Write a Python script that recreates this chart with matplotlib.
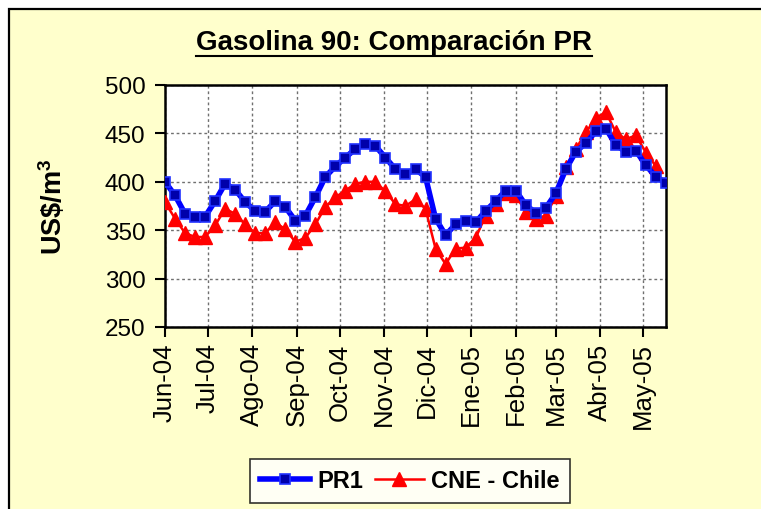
import datetime as dt
import matplotlib
matplotlib.use('Agg')
import matplotlib.pyplot as plt
from matplotlib.patches import Rectangle
from matplotlib.lines import Line2D

plt.rcParams['font.family'] = ['Liberation Sans', 'DejaVu Sans']
plt.rcParams['mathtext.fontset'] = 'custom'
plt.rcParams['mathtext.rm'] = 'Liberation Sans'
plt.rcParams['mathtext.bf'] = 'Liberation Sans:bold'

# weekly dates, first at 1 Jun 2004
start = dt.date(2004, 6, 1)
dates_pr1 = [start + dt.timedelta(days=7 * i) for i in range(51)]
dates_cne = dates_pr1[:50]

pr1 = [400, 386, 367, 364, 364, 380, 398, 392, 379, 370,
       369, 380, 374, 360, 365, 384, 405, 416, 425, 434,
       439, 437, 425, 413, 408, 413, 405, 362, 345, 356,
       359, 358, 370, 380, 391, 391, 376, 368, 373, 388,
       413, 431, 440, 452, 455, 438, 431, 432, 417, 405,
       399]
cne = [379, 362, 347, 343, 343, 355, 372, 367, 356, 347,
       347, 358, 351, 338, 342, 356, 374, 384, 391, 398,
       400, 400, 390, 377, 375, 382, 372, 331, 315, 331,
       332, 342, 365, 377, 388, 386, 369, 362, 365, 385,
       415, 434, 451, 466, 472, 451, 444, 448, 430, 416]

month_ticks = [dt.date(2004, m, 1) for m in range(6, 13)] + [dt.date(2005, m, 1) for m in range(1, 6)]
month_labels = ['Jun-04', 'Jul-04', 'Ago-04', 'Sep-04', 'Oct-04', 'Nov-04',
                'Dic-04', 'Ene-05', 'Feb-05', 'Mar-05', 'Abr-05', 'May-05']
y_ticks = [250, 300, 350, 400, 450, 500]

fig = plt.figure(figsize=(7.61, 5.10), dpi=100)
fig.patch.set_facecolor('white')

# chart area frame (yellow, black border on top/left)
frame = Rectangle((9 / 761, -0.05), 1.1, 1 - 10 / 510 + 0.05, transform=fig.transFigure,
                  facecolor='#FFFFCC', edgecolor='black', linewidth=1.6, zorder=-10)
fig.add_artist(frame)

ax = fig.add_axes([165 / 761, 1 - 328 / 510, (666 - 165) / 761, (328 - 86) / 510])
ax.set_facecolor('white')

ax.plot(dates_cne, cne, color='#FF0000', linewidth=1.8, marker='^', markersize=9.5,
        markerfacecolor='#FF0000', markeredgecolor='#FF0000', label='CNE - Chile', zorder=3)
ax.plot(dates_pr1, pr1, color='#0000FF', linewidth=4, marker='s', markersize=7.5,
        markerfacecolor='#0000AA', markeredgecolor='#2233FF', markeredgewidth=1.2,
        label='PR1', zorder=4)

ax.set_xlim(dates_pr1[0], dates_pr1[-1])
ax.set_ylim(250, 500)
ax.set_yticks(y_ticks)
ax.set_xticks(month_ticks)
ax.set_xticklabels(month_labels, rotation=90, fontsize=18.5)
ax.tick_params(axis='y', labelsize=17.5, direction='out', length=7, width=1.5, pad=7)
ax.tick_params(axis='x', direction='out', length=7, width=1.5, pad=4)
ax.grid(True, color='#707070', linestyle=(0, (2, 2)), linewidth=1.0)
ax.set_axisbelow(True)
for sp in ax.spines.values():
    sp.set_color('black')
    sp.set_linewidth(1.8)

ax.set_ylabel('US\\$/m$^{\\mathbf{3}}$', fontsize=19.5, fontweight='bold')
ax.yaxis.set_label_coords(-0.1936, 0.5)

title = fig.text(394 / 761, 1 - 43 / 510, 'Gasolina 90: Comparación PR', ha='center', va='center',
                 fontsize=20, fontweight='bold')

handles, labels = ax.get_legend_handles_labels()
leg = fig.legend(handles[::-1], labels[::-1], loc='center', bbox_to_anchor=(410 / 761, 1 - 482 / 510),
                 ncol=2, frameon=True, fancybox=False, edgecolor='black',
                 prop={'weight': 'bold', 'size': 17}, handlelength=2.1, columnspacing=0.5,
                 handletextpad=0.3, borderpad=0.45)
leg.get_frame().set_linewidth(1.2)

# underline the title
fig.canvas.draw()
bb = title.get_window_extent(fig.canvas.get_renderer()).transformed(fig.transFigure.inverted())
fig.add_artist(Line2D([bb.x0, bb.x1], [bb.y0 - 0.002, bb.y0 - 0.002], transform=fig.transFigure,
                      color='black', linewidth=1.5))

fig.savefig('out.png', dpi=100, facecolor=fig.get_facecolor())
